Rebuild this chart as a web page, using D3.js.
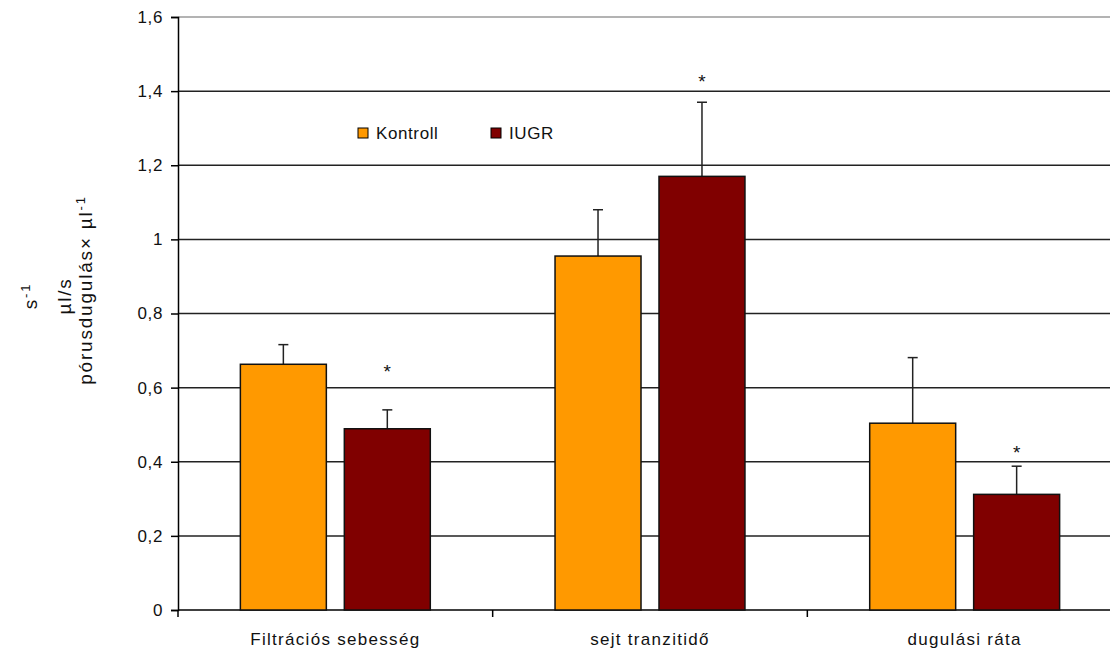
<!DOCTYPE html>
<html><head><meta charset="utf-8">
<script src="https://cdn.jsdelivr.net/npm/d3@7"></script>
<style>body{margin:0;background:#fff}svg{display:block;font-family:"Liberation Sans",Arial,sans-serif}</style>
</head><body><svg id="c" width="1110" height="649"></svg>
<script>
const categories = ["Filtrációs sebesség", "sejt tranzitidő", "dugulási ráta"];
const seriesNames = ["Kontroll", "IUGR"];
const kontroll = [0.663, 0.955, 0.504];
const kontrollErr = [0.053, 0.125, 0.177];
const iugr = [0.489, 1.170, 0.312];
const iugrErr = [0.051, 0.200, 0.076];
const starValues = [0.656, 1.438, 0.437];
const yTicks = [0, 0.2, 0.4, 0.6, 0.8, 1, 1.2, 1.4, 1.6];
const colors = ["#FF9900", "#800000"];

const svg = d3.select("#c");
const L = 178, R = 1122, T = 17, B = 610;
const x = d3.scaleBand().domain(categories).range([L, R]).paddingInner(0).paddingOuter(0);
const xs = d3.scaleBand().domain(seriesNames).range([0, x.bandwidth()]).paddingInner(0.173).paddingOuter(0.6);
const y = d3.scaleLinear().domain([0, 1.6]).range([B, T]);
const fmt = v => String(v).replace(".", ",");

// gridlines
svg.append("g").selectAll("line").data(yTicks.filter(v => v > 0)).join("line")
  .attr("x1", L).attr("x2", 1110).attr("y1", d => y(d)).attr("y2", d => y(d))
  .attr("stroke", d => d === 1.6 ? "#9a9a9a" : "#222").attr("stroke-width", 1.5);

// y axis
const ya = svg.append("g").attr("transform", `translate(${L},0)`)
  .call(d3.axisLeft(y).tickValues(yTicks).tickFormat(fmt).tickSize(7).tickPadding(8));
ya.select(".domain").attr("stroke", "#000").attr("stroke-width", 1.5);
ya.selectAll(".tick line").attr("stroke", "#000").attr("stroke-width", 1.5);
ya.selectAll(".tick text").attr("font-size", 17).attr("fill", "#111").attr("font-family", "Liberation Sans, Arial, sans-serif").attr("letter-spacing", 0.6);

// x axis
const xa = svg.append("g").attr("transform", `translate(0,${B})`);
xa.append("line").attr("x1", L).attr("x2", 1110).attr("y1", 0).attr("y2", 0).attr("stroke", "#000").attr("stroke-width", 1.5);
xa.selectAll("line.sep").data(categories).join("line").attr("class", "sep")
  .attr("x1", d => x(d)).attr("x2", d => x(d)).attr("y1", 0).attr("y2", 7)
  .attr("stroke", "#000").attr("stroke-width", 1.5);
xa.selectAll("text").data(categories).join("text")
  .attr("x", d => x(d) + x.bandwidth() / 2).attr("y", 35)
  .attr("text-anchor", "middle").attr("font-size", 17).attr("letter-spacing", 1.3).attr("fill", "#111")
  .text(d => d);

// bars
const series = [
  {name: seriesNames[0], vals: kontroll, err: kontrollErr, color: colors[0]},
  {name: seriesNames[1], vals: iugr, err: iugrErr, color: colors[1]}
];
series.forEach(s => {
  const g = svg.append("g");
  categories.forEach((c, i) => {
    const bx = x(c) + xs(s.name), bw = xs.bandwidth();
    const cx = bx + bw / 2;
    g.append("line").attr("x1", cx).attr("x2", cx).attr("y1", y(s.vals[i])).attr("y2", y(s.vals[i] + s.err[i]))
      .attr("stroke", "#222").attr("stroke-width", 1.5);
    g.append("line").attr("x1", cx - 5).attr("x2", cx + 5).attr("y1", y(s.vals[i] + s.err[i])).attr("y2", y(s.vals[i] + s.err[i]))
      .attr("stroke", "#222").attr("stroke-width", 1.5);
    g.append("rect").attr("x", bx).attr("y", y(s.vals[i])).attr("width", bw).attr("height", y(0) - y(s.vals[i]))
      .attr("fill", s.color).attr("stroke", "#111").attr("stroke-width", 1.5);
  });
});

// stars
svg.append("g").selectAll("text").data(categories).join("text")
  .attr("x", (d) => x(d) + xs("IUGR") + xs.bandwidth() / 2)
  .attr("y", (d, i) => y(starValues[i]) + 11)
  .attr("text-anchor", "middle").attr("font-size", 19).attr("fill", "#111").text("*");

// legend
const lg = svg.append("g");
const legendX = [358, 491];
seriesNames.forEach((n, i) => {
  lg.append("rect").attr("x", legendX[i]).attr("y", 128).attr("width", 10).attr("height", 10)
    .attr("fill", colors[i]).attr("stroke", "#000").attr("stroke-width", 1);
  lg.append("text").attr("x", legendX[i] + 18).attr("y", 139).attr("font-size", 17).attr("letter-spacing", 0.6).attr("fill", "#111").text(n);
});

// y label (three rotated lines)
const yl = svg.append("g").attr("font-size", 19).attr("letter-spacing", 1.8).attr("fill", "#111");
function vline(xp, yc, parts) {
  const t = yl.append("text").attr("transform", `translate(${xp},${yc}) rotate(-90)`).attr("text-anchor", "middle");
  parts.forEach(p => {
    const ts = t.append("tspan").text(p.t);
    if (p.sup) ts.attr("font-size", 13).attr("baseline-shift", "super");
  });
}
vline(37, 296, [{t: "s"}, {t: "-1", sup: true}]);
vline(71, 296, [{t: "µl/s"}]);
vline(92, 290, [{t: "pórusdugulás× µl"}, {t: "-1", sup: true}]);
</script></body></html>
